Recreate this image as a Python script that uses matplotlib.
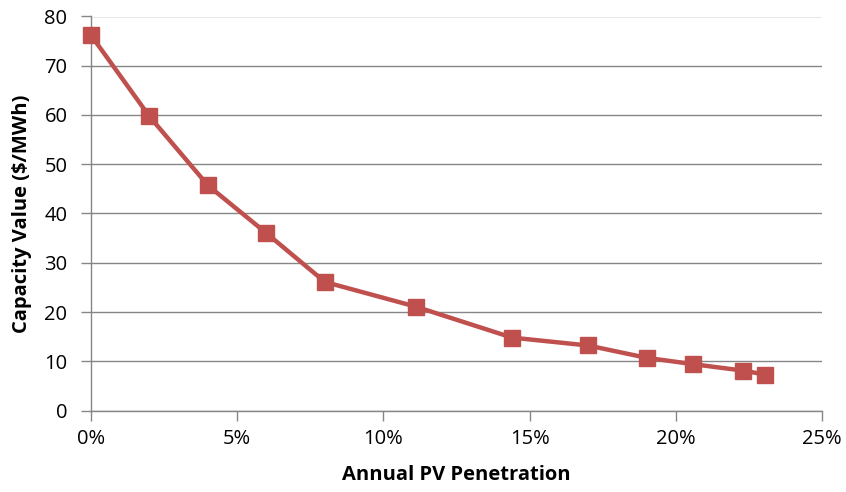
import matplotlib
matplotlib.use("Agg")
import matplotlib.pyplot as plt
from matplotlib.ticker import FuncFormatter, MultipleLocator

# Annual PV penetration (%) and the resulting capacity value ($/MWh)
penetration = [0.0, 2.0, 4.0, 6.0, 8.0, 11.1, 14.4, 17.0, 19.0, 20.6, 22.3, 23.05]
capacity_value = [76.2, 59.7, 45.7, 36.0, 26.1, 21.1, 14.8, 13.2, 10.7, 9.4, 8.1, 7.3]

plt.rcParams["font.family"] = ["Open Sans", "DejaVu Sans"]

grid_color = "#868686"
line_color = "#C0504D"

fig = plt.figure(figsize=(8.46, 4.92), dpi=100)
ax = fig.add_axes([91 / 846, 1 - 410.5 / 492, (822 - 91) / 846, (410.5 - 16.5) / 492])

ax.plot(penetration, capacity_value, color=line_color, linewidth=3.2,
        marker="s", markersize=12, markerfacecolor=line_color,
        markeredgecolor=line_color, zorder=3, clip_on=False)

ax.set_xlim(0, 25)
ax.set_ylim(0, 80)
ax.xaxis.set_major_locator(MultipleLocator(5))
ax.yaxis.set_major_locator(MultipleLocator(10))
ax.xaxis.set_major_formatter(FuncFormatter(lambda v, _: f"{v:.0f}%"))

ax.grid(axis="y", color=grid_color, linewidth=1)
ax.set_axisbelow(True)
for side in ("top", "right"):
    ax.spines[side].set_visible(False)
for side in ("left", "bottom"):
    ax.spines[side].set_color(grid_color)
    ax.spines[side].set_linewidth(1)

ax.tick_params(axis="both", direction="out", length=7, width=1, color=grid_color,
               labelsize=14.5, labelcolor="black")
ax.tick_params(axis="x", pad=6)
ax.tick_params(axis="y", pad=10)

ax.set_xlabel("Annual PV Penetration", fontsize=14.5, fontweight="bold", labelpad=12)
ax.set_ylabel("Capacity Value ($/MWh)", fontsize=14.5, fontweight="bold", labelpad=9)

fig.savefig("out.png", dpi=100)
